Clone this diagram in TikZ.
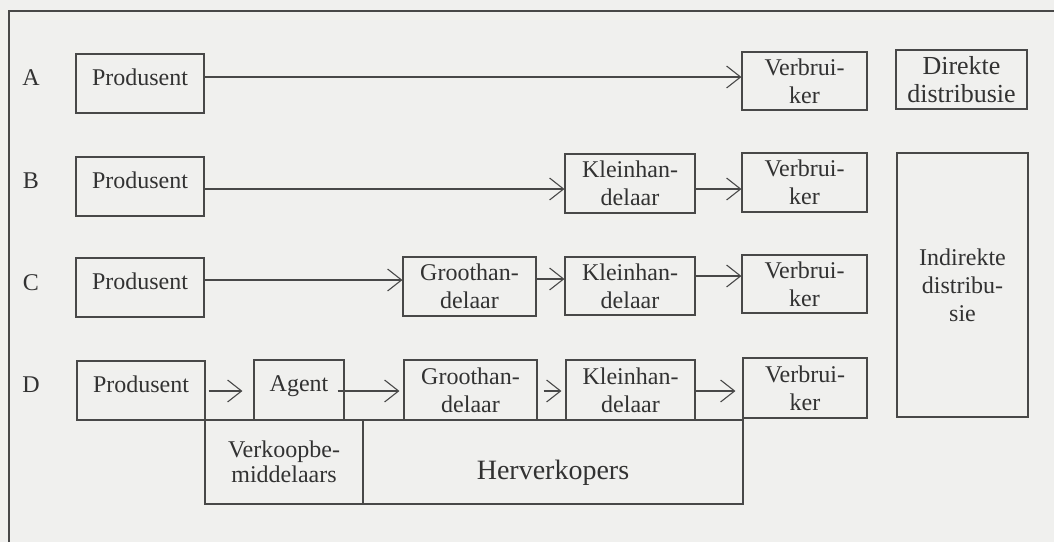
\documentclass[tikz,border=0pt]{standalone}
\usepackage{fontspec}
\setmainfont{Liberation Serif}
\usetikzlibrary{arrows.meta}
\definecolor{bg}{RGB}{240,240,238}
\definecolor{ln}{RGB}{72,72,72}
\definecolor{tx}{RGB}{50,50,50}
\begin{document}
\begin{tikzpicture}[x=1pt,y=-1pt,
  bx/.style={draw=ln, line width=1.1pt, inner sep=0pt, text=tx, font=\fontsize{24}{28}\selectfont},
  bx2/.style={bx, align=center},
  one/.style={bx, text depth=12pt},
  arr/.style={draw=ln, line width=1.1pt, -{Straight Barb[length=14pt,width=22pt,line width=1.1pt]}},
  lab/.style={text=tx, font=\fontsize{24}{28}\selectfont, anchor=base, inner sep=0pt}]
\fill[bg] (0,0) rectangle (1054,542);
\useasboundingbox (0,0) rectangle (1054,542);
\draw[ln, line width=1.2pt] (9,542) -- (9,11) -- (1054,11);

% labels
\node[lab] (la) at (31,85) {A};
\node[lab] (lb) at (31,188) {B};
\node[lab] (lc) at (31,290) {C};
\node[lab] (ld) at (31,392) {D};

% row A
\node[one, minimum width=128pt, minimum height=59pt] (pa) at (140,83.5) {Produsent};
\node[bx2, minimum width=125pt, minimum height=58pt] (va) at (804.5,81) {Verbrui-\\ker};
\node[bx2, font=\fontsize{26}{28}\selectfont, minimum width=131pt, minimum height=59pt] (da) at (961.5,79.5) {Direkte\\distribusie};
\draw[arr] (pa.east |- 0,77) -- (va.west |- 0,77);

% row B
\node[one, minimum width=128pt, minimum height=59pt] (pb) at (140,186.5) {Produsent};
\node[bx2, minimum width=130pt, minimum height=59pt] (kb) at (630,183.5) {Kleinhan-\\delaar};
\node[bx2, minimum width=125pt, minimum height=59pt] (vb) at (804.5,182.5) {Verbrui-\\ker};
\node[bx2, minimum width=131pt, minimum height=264pt] (ind) at (962.5,285) {Indirekte\\distribu-\\sie};
\draw[arr] (pb.east |- 0,189) -- (kb.west |- 0,189);
\draw[arr] (kb.east |- 0,189) -- (vb.west |- 0,189);

% row C
\node[one, minimum width=128pt, minimum height=59pt] (pc) at (140,287.5) {Produsent};
\node[bx2, minimum width=133pt, minimum height=59pt] (gc) at (469.5,286.5) {Groothan-\\delaar};
\node[bx2, minimum width=130pt, minimum height=58pt] (kc) at (630,286) {Kleinhan-\\delaar};
\node[bx2, minimum width=125pt, minimum height=58pt] (vc) at (804.5,284) {Verbrui-\\ker};
\draw[arr] (pc.east |- 0,280) -- (gc.west |- 0,280);
\draw[arr] (gc.east |- 0,279) -- (kc.west |- 0,279);
\draw[arr] (kc.east |- 0,276) -- (vc.west |- 0,276);

% row D
\node[one, minimum width=128pt, minimum height=59pt] (pd) at (141,390.5) {Produsent};
\node[one, minimum width=90pt, minimum height=60pt] (ag) at (299,390) {Agent};
\node[bx2, minimum width=133pt, minimum height=60pt] (gd) at (470.5,390) {Groothan-\\delaar};
\node[bx2, minimum width=129pt, minimum height=60pt] (kd) at (630.5,390) {Kleinhan-\\delaar};
\node[bx2, minimum width=124pt, minimum height=60pt] (vd) at (805,388) {Verbrui-\\ker};
\draw[arr, shorten <=3pt, shorten >=11pt] (pd.east |- 0,391) -- (ag.west |- 0,391);
\draw[arr, shorten <=-7pt, shorten >=4pt] (ag.east |- 0,391) -- (gd.west |- 0,391);
\draw[arr, shorten <=6pt, shorten >=4pt] (gd.east |- 0,391) -- (kd.west |- 0,391);
\draw[arr, shorten >=7pt] (kd.east |- 0,391) -- (vd.west |- 0,391);

% bottom groups
\node[bx2, font=\fontsize{24}{25}\selectfont, minimum width=158pt, minimum height=84pt] (vk) at (284,462) {Verkoopbe-\\middelaars};
\node[bx, font=\fontsize{28}{32}\selectfont, text height=41pt, minimum width=380pt, minimum height=84pt] (hv) at (553,462) {Herverkopers};
\end{tikzpicture}
\end{document}
